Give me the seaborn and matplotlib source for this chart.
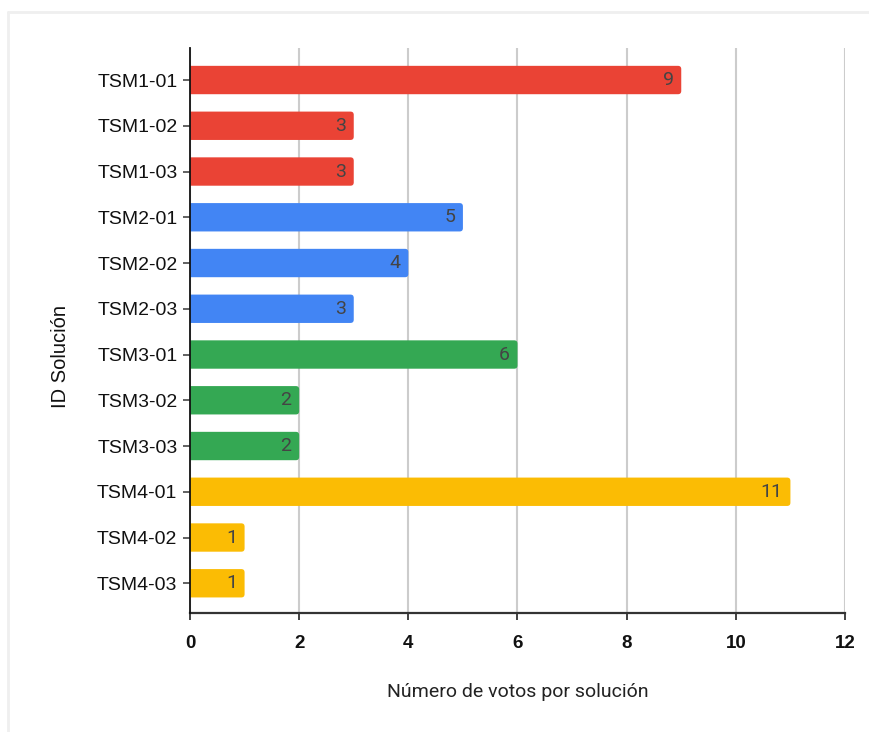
import matplotlib
matplotlib.use("Agg")
import matplotlib.pyplot as plt
from matplotlib.patches import FancyBboxPatch
from matplotlib.lines import Line2D
import seaborn as sns
import pandas as pd

# Votes per proposed solution, grouped by theme
soluciones = ["TSM1-01", "TSM1-02", "TSM1-03",
              "TSM2-01", "TSM2-02", "TSM2-03",
              "TSM3-01", "TSM3-02", "TSM3-03",
              "TSM4-01", "TSM4-02", "TSM4-03"]
votos = [9, 3, 3, 5, 4, 3, 6, 2, 2, 11, 1, 1]
grupos = ["TSM1"] * 3 + ["TSM2"] * 3 + ["TSM3"] * 3 + ["TSM4"] * 3
colores = {"TSM1": "#EA4335", "TSM2": "#4285F4", "TSM3": "#34A853", "TSM4": "#FBBC04"}
x_ticks = [0, 2, 4, 6, 8, 10, 12]

df = pd.DataFrame({"ID": soluciones, "Votos": votos, "Grupo": grupos})

sns.set_theme(style="white")
plt.rcParams["font.family"] = ["Liberation Sans", "DejaVu Sans"]

fig = plt.figure(figsize=(8.7, 7.32), dpi=100)
ax = fig.add_axes([190 / 870, 1 - 613 / 732, 655 / 870, 565 / 732])

sns.barplot(data=df, y="ID", x="Votos", hue="Grupo", palette=colores,
            orient="h", width=0.62, dodge=False, legend=False, ax=ax,
            saturation=1, zorder=3)

# Swap the plain bars for ones with softly rounded ends; the left end
# starts below zero so the axes clip it square against the axis line.
r_x, r_y = 0.06, 0.072
ext = 0.3
for p in list(ax.patches):
    x0, y0 = p.get_x(), p.get_y()
    w, h = p.get_width(), p.get_height()
    col = p.get_facecolor()
    p.remove()
    if w <= 0:
        continue
    rb = FancyBboxPatch((x0 - ext, y0), w + ext, h,
                        boxstyle=f"round,pad=0,rounding_size={r_x}",
                        mutation_aspect=r_y / r_x,
                        facecolor=col, edgecolor="none", zorder=3)
    ax.add_patch(rb)

# Value labels at the end of each bar
for i, v in enumerate(votos):
    ax.annotate(str(v), xy=(v, i), xytext=(-5.5, 0), textcoords="offset points",
                ha="right", va="center", fontsize=14, color="#444444",
                family="Roboto", zorder=4)

ax.set_xlim(0, 12)
ax.set_ylim(11.65, -0.7)
ax.set_xticks(x_ticks)
ax.set_xticklabels([str(t) for t in x_ticks], fontweight="bold",
                   fontsize=13.5, color="#111111")
ax.set_yticks(range(len(soluciones)))
ax.set_yticklabels(soluciones, fontsize=14, color="#111111")

ax.grid(axis="x", color="#cccccc", linewidth=1.5, zorder=0)
ax.grid(axis="y", visible=False)
ax.set_axisbelow(True)

for s in ["top", "right"]:
    ax.spines[s].set_visible(False)
ax.spines["left"].set_color("#111111")
ax.spines["left"].set_linewidth(1.3)
ax.spines["left"].set_zorder(5)
ax.spines["bottom"].set_color("#333333")
ax.spines["bottom"].set_linewidth(1.6)

ax.tick_params(axis="x", direction="out", length=5, width=1.3, color="#333333",
               pad=11, bottom=True)
ax.tick_params(axis="y", direction="out", length=5, width=1.3, color="#555555",
               pad=4, left=True)

ax.set_xlabel("Número de votos por solución", family="Roboto", fontsize=14,
              color="#222222")
ax.xaxis.set_label_coords(0.5, -(692 - 613) / 565)
ax.xaxis.label.set_va("center")
ax.set_ylabel("ID Solución", fontsize=14.5, color="#111111")
ax.yaxis.set_label_coords(-(190 - 60) / 655, (613 - 356) / 565)
ax.yaxis.label.set_va("center")

# Faint frame around the chart card
fig.add_artist(Line2D([8 / 870, 8 / 870], [0, 1 - 12 / 732],
                      transform=fig.transFigure, color="#efefef", linewidth=2))
fig.add_artist(Line2D([8 / 870, 1], [1 - 12 / 732, 1 - 12 / 732],
                      transform=fig.transFigure, color="#efefef", linewidth=2))

fig.savefig("out.png", dpi=100)
